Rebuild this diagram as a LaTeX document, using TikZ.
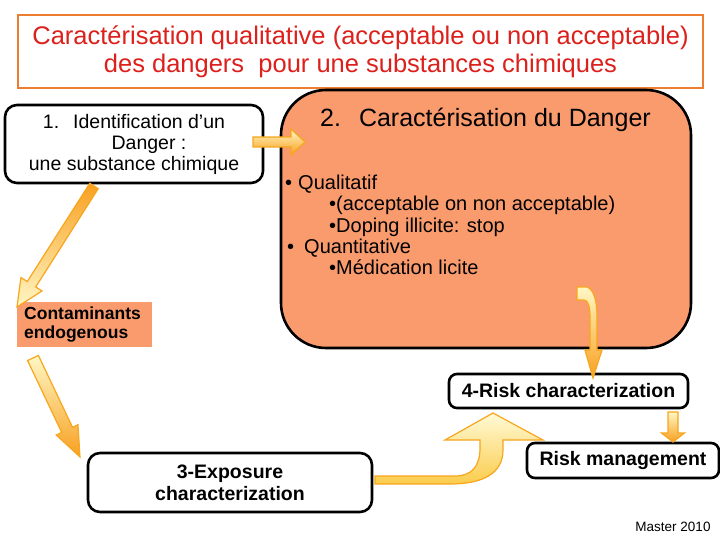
\documentclass[tikz,border=0pt]{standalone}
\usepackage{fontspec}
\setmainfont{Liberation Sans}
\usetikzlibrary{calc}

\definecolor{titlered}{RGB}{220,32,28}
\definecolor{titleline}{RGB}{237,125,49}
\definecolor{dangerfill}{RGB}{250,155,110}
\definecolor{arrowedge}{RGB}{247,166,30}
\definecolor{arrowlight}{RGB}{255,247,196}
\definecolor{arrowdark}{RGB}{248,160,32}
\definecolor{bendlight}{RGB}{255,250,214}
\definecolor{benddark}{RGB}{251,204,76}

\tikzset{
  stagebox/.style={draw=black, line width=2.6pt, fill=white, rounded corners=12pt, inner sep=0pt, align=center},
  boldstage/.style={stagebox, font=\fontsize{19.5}{22}\selectfont\bfseries},
  arrowshade/.style={draw=arrowedge, line width=1.2pt, top color=arrowlight, bottom color=arrowdark},
  dangerline/.style={anchor=base west, inner sep=0pt, font=\fontsize{20}{21}\selectfont},
}
% block arrow: [options]{tail}{tip}{shaft half width}{head half width}{head length}
\newcommand{\blockarrow}[6][]{%
  \shade[arrowshade,#1] let \p1=($(#3)-(#2)$), \n1={veclen(\x1,\y1)}, \n2={atan2(\y1,\x1)} in
    ([shift={(#2)},rotate=\n2]0pt,#4) -- ([shift={(#2)},rotate=\n2]{\n1-#6},#4)
    -- ([shift={(#2)},rotate=\n2]{\n1-#6},#5) -- ([shift={(#2)},rotate=\n2]\n1,0pt)
    -- ([shift={(#2)},rotate=\n2]{\n1-#6},-#5) -- ([shift={(#2)},rotate=\n2]{\n1-#6},-#4)
    -- ([shift={(#2)},rotate=\n2]0pt,-#4) -- cycle;}

\begin{document}
\begin{tikzpicture}[x=1pt,y=-1pt]
  \useasboundingbox[fill=white] (0,0) rectangle (720,540);
  % the heading
  \node[draw=titleline, line width=2pt, minimum width=685pt, minimum height=73pt, inner sep=0pt,
        align=center, text=titlered, font=\fontsize{25.5}{28}\selectfont] (title) at (360.5,51.5)
    {Caractérisation qualitative (acceptable ou non acceptable)\\des dangers\ \ pour une substances chimiques};
  % the danger stage, shaded
  \node[stagebox, fill=dangerfill, rounded corners=45pt, minimum width=410pt, minimum height=258pt] (danger) at (486,219) {};
  \node[font=\fontsize{25}{28}\selectfont] (dangertitle) at (485.5,120) {2.\hspace{18pt}Caractérisation du Danger};
  \node[dangerline] (qual) at (285,189.5) {•\hspace{6pt}Qualitatif};
  \node[dangerline] (qualA) at (329,210.5) {•(acceptable on non acceptable)};
  \node[dangerline] (qualB) at (329,232.5) {•Doping illicite: stop};
  \node[dangerline] (quant) at (287,253.5) {•\hspace{10pt}Quantitative};
  \node[dangerline] (quantA) at (329,274.5) {•Médication licite};
  % the other stages
  \node[stagebox, minimum width=258pt, minimum height=78pt, font=\fontsize{19.5}{21}\selectfont] (ident) at (134,144)
    {1.\hspace{14pt}Identification d’un\\\hspace*{30pt}Danger :\\une substance chimique};
  \node[fill=dangerfill, minimum width=135pt, minimum height=45pt] (contam) at (84.5,324.5) {};
  \node[anchor=west, inner sep=0pt, align=left, font=\fontsize{17.5}{19}\selectfont\bfseries] (contamtext) at (24,324.5)
    {Contaminants\\endogenous};
  \node[boldstage, minimum width=284pt, minimum height=59pt] (expo) at (230,482.5) {3-Exposure\\characterization};
  \node[boldstage, rounded corners=8pt, minimum width=239pt, minimum height=34pt] (risk) at (568.5,391) {4-Risk characterization};
  \node[boldstage, rounded corners=8pt, minimum width=192pt, minimum height=35pt] (mgmt) at (623,460.5) {Risk management};
  \node[font=\fontsize{13.5}{15}\selectfont] (master) at (673,527) {Master 2010};
  % the straight arrows
  \coordinate (a1tail) at (253,142);  \coordinate (a1tip) at (305,142);
  \coordinate (a2tail) at (94,186);   \coordinate (a2tip) at (17,307);
  \coordinate (a3tail) at (33,358);   \coordinate (a3tip) at (80,457);
  \coordinate (a4tail) at (673,412);  \coordinate (a4tip) at (673,442);
  \blockarrow{a1tail}{a1tip}{5pt}{13pt}{14pt}
  \blockarrow[top color=arrowdark, bottom color=arrowlight]{a2tail}{a2tip}{5pt}{12.5pt}{27pt}
  \blockarrow{a3tail}{a3tip}{6pt}{12pt}{30pt}
  \blockarrow{a4tail}{a4tip}{5pt}{11.5pt}{9pt}
  % the bent arrows
  \shade[arrowshade] (577,287) -- (587,287) .. controls (594,290) and (597,300) .. (597,318) -- (597,350)
    -- (602,350) -- (593,378) -- (585,350) -- (590,350) -- (590,318) .. controls (590,306) and (588,300) .. (584,300)
    -- (577,300) -- cycle;
  \shade[draw=arrowedge, line width=1.2pt, top color=bendlight, bottom color=benddark]
    (375,476) -- (455,476) .. controls (472,476) and (480,466) .. (480,448) -- (480,440) -- (445,440) -- (493,413)
    -- (543,440) -- (503,440) -- (503,450) .. controls (503,474) and (482,484) .. (450,484) -- (375,484) -- cycle;
\end{tikzpicture}
\end{document}
